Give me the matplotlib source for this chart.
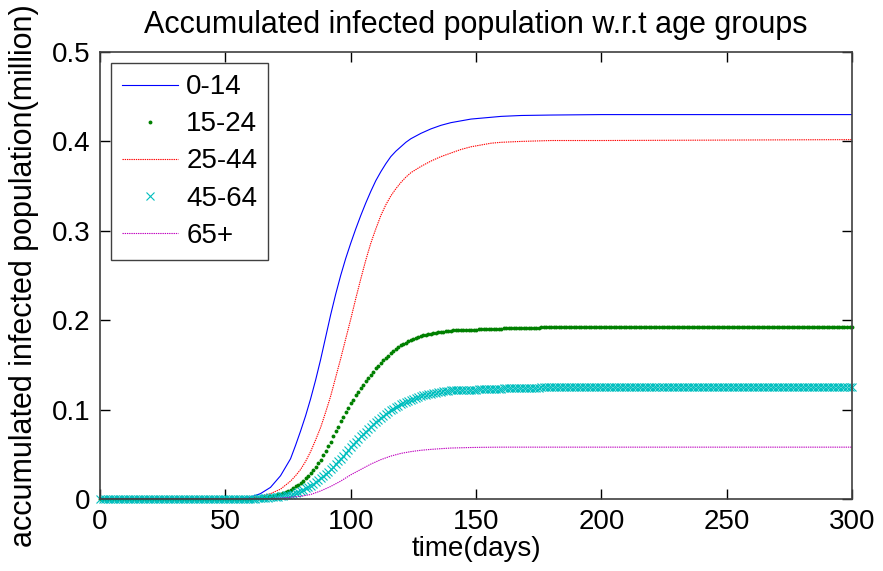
import numpy as np
import matplotlib
matplotlib.use("Agg")
import matplotlib.pyplot as plt
from matplotlib.ticker import FixedLocator, FixedFormatter

plt.rcParams['font.family'] = ['Liberation Sans', 'DejaVu Sans']

# daily grid for the marker series (15-24, 45-64)
days = np.arange(0, 301)

# 15-24 (million)
g_1524 = ([0.0] * 56 +
          [0.0002, 0.0003, 0.0003, 0.0004] +                                      # 56-59
          [0.0005, 0.0006, 0.0007, 0.0009, 0.001, 0.0014, 0.0018, 0.0023, 0.003, 0.0037] +
          [0.0044, 0.0052, 0.006, 0.007, 0.008, 0.009, 0.010, 0.012, 0.014, 0.016] +
          [0.018, 0.0205, 0.023, 0.026, 0.029, 0.0325, 0.036, 0.040, 0.044, 0.049] +
          [0.054, 0.059, 0.064, 0.070, 0.076, 0.081, 0.087, 0.092, 0.097, 0.102] +
          [0.107, 0.111, 0.116, 0.120, 0.124, 0.128, 0.132, 0.135, 0.139, 0.142] +
          [0.146, 0.149, 0.152, 0.155, 0.158, 0.160, 0.163, 0.165, 0.168, 0.170] +
          [0.172, 0.1735, 0.175, 0.1765, 0.178, 0.179, 0.180, 0.181, 0.182, 0.183] +
          [0.1837, 0.1844, 0.185, 0.1855, 0.186, 0.1865, 0.187, 0.1873, 0.1876, 0.1879] +
          [0.188] +                                                               # 140
          [0.189] * 10 + [0.190] * 10 + [0.191] * 15 + [0.192] * 125)

# 45-64
g_4564 = ([0.0] * 60 +
          [0.0003, 0.0004, 0.0005, 0.0006, 0.0008, 0.001, 0.0013, 0.0016, 0.002, 0.0022] +
          [0.0025, 0.0027, 0.003, 0.0035, 0.004, 0.0045, 0.005, 0.006, 0.007, 0.008] +
          [0.009, 0.0105, 0.012, 0.0135, 0.015, 0.017, 0.019, 0.021, 0.023, 0.0255] +
          [0.028, 0.0305, 0.033, 0.036, 0.039, 0.042, 0.045, 0.048, 0.0515, 0.055] +
          [0.058, 0.061, 0.064, 0.067, 0.070, 0.073, 0.0755, 0.078, 0.081, 0.0835] +
          [0.086, 0.0885, 0.091, 0.093, 0.095, 0.097, 0.099, 0.101, 0.1027, 0.1044] +
          [0.106, 0.1073, 0.1086, 0.1098, 0.111, 0.112, 0.113, 0.114, 0.115, 0.116] +
          [0.1167, 0.1174, 0.118, 0.1185, 0.119, 0.1195, 0.120, 0.1204, 0.1208, 0.1212] +
          [0.1215] +                                                              # 140
          [0.122] * 10 + [0.123] * 10 + [0.124] * 15 + [0.125] * 125)

# line series, sampled coarser (every 2 days through the rise)
line_days = [0, 52, 56, 60, 64, 68, 72, 76, 78, 80, 82, 84, 86, 88, 90, 92, 94, 96, 98,
             100, 102, 104, 106, 108, 110, 112, 114, 116, 118, 120, 122, 124, 128, 132,
             136, 140, 144, 148, 152, 156, 160, 168, 180, 200, 300]
g_0014 = [0, 0, 0.0005, 0.002, 0.006, 0.013, 0.026, 0.045, 0.060, 0.076, 0.093, 0.112,
          0.133, 0.156, 0.181, 0.206, 0.229, 0.250, 0.269, 0.286, 0.302, 0.317, 0.331,
          0.344, 0.356, 0.366, 0.375, 0.383, 0.389, 0.394, 0.399, 0.403, 0.409, 0.414,
          0.418, 0.421, 0.423, 0.425, 0.426, 0.427, 0.428, 0.429, 0.4295, 0.430, 0.430]
g_2544 = [0, 0, 0.0002, 0.001, 0.003, 0.006, 0.011, 0.020, 0.026, 0.033, 0.042, 0.053,
          0.066, 0.080, 0.097, 0.115, 0.136, 0.157, 0.179, 0.201, 0.224, 0.246, 0.267,
          0.286, 0.302, 0.317, 0.329, 0.339, 0.347, 0.354, 0.360, 0.365, 0.372, 0.378,
          0.383, 0.387, 0.391, 0.394, 0.396, 0.398, 0.399, 0.400, 0.401, 0.401, 0.402]
g_65 = [0, 0, 0, 0, 0.0002, 0.0005, 0.001, 0.002, 0.0025, 0.003, 0.004, 0.005,
        0.007, 0.009, 0.0115, 0.014, 0.017, 0.020, 0.0235, 0.027, 0.030, 0.033, 0.036,
        0.039, 0.0415, 0.044, 0.046, 0.048, 0.0495, 0.051, 0.052, 0.053, 0.0545, 0.0555,
        0.0563, 0.057, 0.0573, 0.0576, 0.0578, 0.0579, 0.058, 0.058, 0.058, 0.058, 0.058]

xticks = [0, 50, 100, 150, 200, 250, 300]
yticks = [0, 0.1, 0.2, 0.3, 0.4, 0.5]
ytick_labels = ['0', '0.1', '0.2', '0.3', '0.4', '0.5']

fig = plt.figure(figsize=(8.83, 5.71), dpi=100)
ax = fig.add_axes([0.1133, 0.1261, 0.8516, 0.7828])

ax.plot(line_days, g_0014, '-', color=(0, 0, 1), lw=0.8, label='0-14')
ax.plot(days, g_1524, 'o', color=(0, 0.5, 0), ms=2.8, mew=0, clip_on=False, label='15-24')
ax.plot(line_days, g_2544, color=(1, 0, 0), lw=0.8, ls=(0, (1.2, 0.8)), label='25-44')
ax.plot(days, g_4564, 'x', color=(0, 0.75, 0.75), ms=5.5, mew=0.8, clip_on=False, label='45-64')
ax.plot(line_days, g_65, color=(0.75, 0, 0.75), lw=0.8, ls=(0, (1.2, 0.8)), label='65+')

ax.set_xlim(0, 300)
ax.set_ylim(0, 0.5)
ax.xaxis.set_major_locator(FixedLocator(xticks))
ax.yaxis.set_major_locator(FixedLocator(yticks))
ax.yaxis.set_major_formatter(FixedFormatter(ytick_labels))
ax.tick_params(direction='in', top=True, right=True, length=7, width=1, labelsize=20, pad=7)
for sp in ax.spines.values():
    sp.set_color('#404040')
    sp.set_linewidth(1.2)

ax.set_xlabel('time(days)', fontsize=20, labelpad=1)
ax.set_ylabel('accumulated infected population(million)', fontsize=22, labelpad=9)
ax.set_title('Accumulated infected population w.r.t age groups', fontsize=22, pad=14)

leg = ax.legend(loc='upper left', fontsize=20, numpoints=1, handlelength=2.0,
                handletextpad=0.3, labelspacing=0.4, borderaxespad=0.4,
                fancybox=False, framealpha=1, edgecolor='#404040')
leg.get_frame().set_linewidth(1.0)

fig.savefig('out.png', dpi=100)
